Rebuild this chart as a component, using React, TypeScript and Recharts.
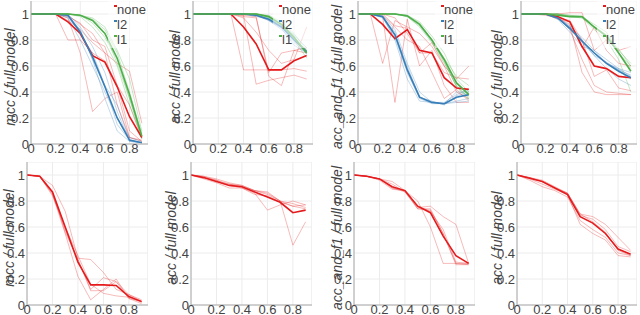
import React from "react";
import {
  LineChart,
  Line,
  XAxis,
  YAxis,
  CartesianGrid,
  ReferenceLine,
} from "recharts";

// fraction of pruned heads (x axis)
const PRUNE = [0, 0.1, 0.2, 0.3, 0.4, 0.5, 0.6, 0.7, 0.8, 0.9];
const X_TICKS = [0, 0.2, 0.4, 0.6, 0.8];
const Y_TICKS = [0, 0.2, 0.4, 0.6, 0.8, 1];
const X_MAX = 0.95;
const Y_MAX = 1.1;

const COLORS: Record<string, string> = {
  none: "#e41a1c",
  l2: "#377eb8",
  l1: "#4daf4a",
};
const LEGEND_KEYS = ["none", "l2", "l1"];

// ---- top row, panel 1: mcc ----
const MCC_NONE_RUNS = [
  [1, 1, 1, 0.8, 0.8, 0.7, 0.64, 0.45, 0.1, 0.02],
  [1, 1, 1, 0.97, 0.7, 0.25, 0.35, 0.4, 0.05, 0.03],
  [1, 1, 1, 0.99, 0.92, 0.85, 0.7, 0.62, 0.56, 0.16],
  [1, 1, 1, 0.95, 0.88, 0.78, 0.7, 0.3, 0.05, 0.02],
  [1, 1, 1, 0.98, 0.93, 0.8, 0.75, 0.45, 0.3, 0.04],
];
const MCC_NONE_MEAN = [1, 1, 1, 0.94, 0.85, 0.68, 0.63, 0.44, 0.21, 0.05];
const MCC_L2_RUNS = [
  [1, 1, 1, 1, 0.9, 0.75, 0.55, 0.25, 0.02, 0.01],
  [1, 1, 1, 0.98, 0.85, 0.7, 0.45, 0.15, 0.03, 0.01],
  [1, 1, 1, 0.99, 0.88, 0.65, 0.35, 0.1, 0.02, 0.01],
  [1, 1, 1, 0.97, 0.8, 0.6, 0.4, 0.2, 0.05, 0.02],
  [1, 1, 1, 0.99, 0.87, 0.65, 0.45, 0.3, 0.03, 0.01],
];
const MCC_L2_MEAN = [1, 1, 1, 0.99, 0.86, 0.67, 0.44, 0.2, 0.03, 0.01];
const MCC_L1_RUNS = [
  [1, 1, 1, 1, 0.99, 0.96, 0.88, 0.7, 0.4, 0.08],
  [1, 1, 1, 1, 0.99, 0.93, 0.82, 0.65, 0.35, 0.05],
  [1, 1, 1, 1, 0.98, 0.9, 0.78, 0.6, 0.3, 0.06],
  [1, 1, 1, 1, 0.99, 0.97, 0.9, 0.72, 0.5, 0.1],
  [1, 1, 1, 1, 0.99, 0.95, 0.85, 0.62, 0.35, 0.04],
];
const MCC_L1_MEAN = [1, 1, 1, 1, 0.99, 0.95, 0.85, 0.66, 0.38, 0.06];

// ---- top row, panel 2: acc ----
const ACC_NONE_RUNS = [
  [1, 1, 1, 1, 0.57, 0.57, 0.57, 0.57, 0.58, 0.56],
  [1, 1, 1, 1, 0.99, 0.46, 0.49, 0.51, 0.53, 0.5],
  [1, 1, 1, 1, 0.99, 0.98, 0.52, 0.45, 0.72, 0.7],
  [1, 1, 1, 1, 0.98, 0.97, 0.55, 0.7, 0.72, 0.74],
  [1, 1, 1, 1, 0.97, 0.86, 0.72, 0.62, 0.65, 0.9],
];
const ACC_NONE_MEAN = [1, 1, 1, 1, 0.9, 0.77, 0.57, 0.57, 0.64, 0.68];
const ACC_L2_RUNS = [
  [1, 1, 1, 1, 1, 0.99, 0.97, 0.92, 0.84, 0.74],
  [1, 1, 1, 1, 1, 0.99, 0.95, 0.88, 0.78, 0.7],
  [1, 1, 1, 1, 1, 0.98, 0.96, 0.9, 0.8, 0.72],
  [1, 1, 1, 1, 1, 0.99, 0.96, 0.91, 0.82, 0.69],
  [1, 1, 1, 1, 1, 0.99, 0.95, 0.89, 0.76, 0.7],
];
const ACC_L2_MEAN = [1, 1, 1, 1, 1, 0.99, 0.96, 0.9, 0.8, 0.71];
const ACC_L1_RUNS = [
  [1, 1, 1, 1, 1, 1, 0.99, 0.94, 0.85, 0.72],
  [1, 1, 1, 1, 1, 1, 0.98, 0.9, 0.8, 0.66],
  [1, 1, 1, 1, 1, 1, 0.98, 0.93, 0.83, 0.7],
  [1, 1, 1, 1, 1, 1, 0.97, 0.91, 0.81, 0.71],
  [1, 1, 1, 1, 1, 1, 0.98, 0.92, 0.81, 0.71],
];
const ACC_L1_MEAN = [1, 1, 1, 1, 1, 1, 0.98, 0.92, 0.82, 0.7];

// ---- top row, panel 3: acc_and_f1 ----
const F1_NONE_RUNS = [
  [1, 1, 0.62, 0.95, 0.9, 0.85, 0.75, 0.6, 0.5, 0.6],
  [1, 1, 0.98, 0.32, 0.96, 0.6, 0.72, 0.45, 0.32, 0.32],
  [1, 1, 0.99, 0.9, 0.8, 0.75, 0.55, 0.35, 0.42, 0.33],
  [1, 1, 1, 0.97, 0.85, 0.7, 0.78, 0.6, 0.4, 0.35],
  [1, 1, 1, 0.91, 0.89, 0.7, 0.7, 0.55, 0.51, 0.5],
];
const F1_NONE_MEAN = [1, 1, 0.92, 0.81, 0.88, 0.72, 0.7, 0.51, 0.43, 0.42];
const F1_L2_RUNS = [
  [1, 1, 0.99, 0.88, 0.62, 0.4, 0.32, 0.31, 0.33, 0.35],
  [1, 1, 0.97, 0.82, 0.55, 0.35, 0.31, 0.31, 0.4, 0.4],
  [1, 1, 0.98, 0.8, 0.5, 0.33, 0.32, 0.31, 0.32, 0.33],
  [1, 1, 0.98, 0.86, 0.58, 0.36, 0.32, 0.32, 0.38, 0.42],
  [1, 1, 0.98, 0.84, 0.6, 0.36, 0.33, 0.3, 0.37, 0.4],
];
const F1_L2_MEAN = [1, 1, 0.98, 0.84, 0.57, 0.36, 0.32, 0.31, 0.36, 0.38];
const F1_L1_RUNS = [
  [1, 1, 1, 1, 0.99, 0.94, 0.83, 0.7, 0.5, 0.4],
  [1, 1, 1, 1, 0.98, 0.9, 0.78, 0.62, 0.45, 0.35],
  [1, 1, 1, 1, 0.99, 0.93, 0.8, 0.66, 0.52, 0.45],
  [1, 1, 1, 1, 0.98, 0.91, 0.79, 0.64, 0.44, 0.36],
  [1, 1, 1, 1, 0.99, 0.92, 0.8, 0.63, 0.44, 0.34],
];
const F1_L1_MEAN = [1, 1, 1, 1, 0.985, 0.92, 0.8, 0.65, 0.47, 0.38];

// ---- top row, panel 4: acc ----
const ACC2_NONE_RUNS = [
  [1, 1, 1, 1, 1.01, 1.01, 0.72, 0.8, 0.72, 0.75],
  [1, 1, 1, 0.97, 0.92, 0.55, 0.4, 0.38, 0.38, 0.38],
  [1, 1, 1, 0.98, 0.88, 0.65, 0.45, 0.4, 0.39, 0.38],
  [1, 1, 0.99, 0.97, 0.95, 0.8, 0.52, 0.57, 0.43, 0.41],
  [1, 1, 1, 0.96, 0.94, 0.74, 0.9, 0.72, 0.62, 0.6],
];
const ACC2_NONE_MEAN = [1, 1, 1, 0.98, 0.94, 0.75, 0.6, 0.58, 0.52, 0.51];
const ACC2_L2_RUNS = [
  [1, 1, 1, 0.98, 0.9, 0.82, 0.72, 0.65, 0.58, 0.52],
  [1, 1, 1, 0.97, 0.88, 0.78, 0.68, 0.58, 0.5, 0.45],
  [1, 1, 1, 0.96, 0.86, 0.75, 0.72, 0.62, 0.58, 0.55],
  [1, 1, 1, 0.97, 0.9, 0.8, 0.7, 0.62, 0.57, 0.5],
  [1, 1, 1, 0.97, 0.91, 0.8, 0.68, 0.63, 0.57, 0.53],
];
const ACC2_L2_MEAN = [1, 1, 1, 0.97, 0.89, 0.79, 0.7, 0.62, 0.56, 0.51];
const ACC2_L1_RUNS = [
  [1, 1, 1, 1, 0.99, 0.98, 0.92, 0.86, 0.7, 0.6],
  [1, 1, 1, 1, 0.98, 0.97, 0.88, 0.8, 0.65, 0.4],
  [1, 1, 1, 1, 0.98, 0.98, 0.9, 0.84, 0.72, 0.62],
  [1, 1, 1, 1, 0.98, 0.97, 0.9, 0.82, 0.7, 0.58],
  [1, 1, 1, 1, 0.99, 0.98, 0.9, 0.83, 0.73, 0.6],
];
const ACC2_L1_MEAN = [1, 1, 1, 0.99, 0.98, 0.98, 0.9, 0.83, 0.7, 0.56];

// ---- bottom row (none only) ----
const B_MCC_RUNS = [
  [1, 0.99, 0.92, 0.72, 0.36, 0.35, 0.25, 0.12, 0.08, 0.04],
  [1, 0.99, 0.85, 0.55, 0.22, 0.04, 0.12, 0.2, 0.05, 0.01],
  [1, 0.99, 0.86, 0.58, 0.35, 0.12, 0.21, 0.18, 0.08, 0.03],
  [1, 0.99, 0.84, 0.6, 0.38, 0.16, 0.09, 0.07, 0.06, 0.02],
  [1, 0.99, 0.87, 0.56, 0.35, 0.11, 0.11, 0.18, 0.05, 0.03],
];
const B_MCC_MEAN = [1, 0.99, 0.87, 0.6, 0.33, 0.155, 0.155, 0.15, 0.065, 0.026];
const B_ACC_RUNS = [
  [1, 0.99, 0.97, 0.94, 0.92, 0.88, 0.86, 0.8, 0.46, 0.64],
  [1, 0.98, 0.96, 0.92, 0.9, 0.86, 0.73, 0.77, 0.8, 0.77],
  [1, 0.98, 0.95, 0.93, 0.92, 0.88, 0.85, 0.8, 0.78, 0.75],
  [1, 0.97, 0.94, 0.9, 0.9, 0.85, 0.84, 0.79, 0.76, 0.74],
  [1, 0.99, 0.96, 0.93, 0.91, 0.88, 0.87, 0.8, 0.76, 0.77],
];
const B_ACC_MEAN = [1, 0.98, 0.95, 0.92, 0.91, 0.87, 0.83, 0.79, 0.71, 0.73];
const B_F1_RUNS = [
  [1, 0.99, 0.97, 0.95, 0.88, 0.8, 0.6, 0.32, 0.32, 0.32],
  [1, 0.99, 0.97, 0.93, 0.87, 0.75, 0.76, 0.68, 0.62, 0.32],
  [1, 0.99, 0.97, 0.9, 0.88, 0.74, 0.74, 0.55, 0.32, 0.31],
  [1, 0.99, 0.96, 0.89, 0.88, 0.76, 0.72, 0.58, 0.33, 0.32],
  [1, 0.99, 0.97, 0.9, 0.87, 0.74, 0.73, 0.55, 0.31, 0.31],
];
const B_F1_MEAN = [1, 0.99, 0.97, 0.91, 0.88, 0.76, 0.71, 0.53, 0.38, 0.32];
const B_ACC2_RUNS = [
  [1, 0.98, 0.96, 0.91, 0.86, 0.7, 0.68, 0.62, 0.52, 0.42],
  [1, 0.97, 0.93, 0.89, 0.85, 0.62, 0.55, 0.5, 0.38, 0.37],
  [1, 0.98, 0.95, 0.9, 0.86, 0.69, 0.66, 0.58, 0.45, 0.41],
  [1, 0.96, 0.91, 0.88, 0.83, 0.65, 0.58, 0.52, 0.4, 0.38],
  [1, 0.98, 0.95, 0.9, 0.86, 0.7, 0.64, 0.56, 0.42, 0.38],
];
const B_ACC2_MEAN = [1, 0.975, 0.95, 0.9, 0.85, 0.68, 0.63, 0.55, 0.43, 0.39];

const FONT = '"Liberation Sans", Arial, Helvetica, sans-serif';
const TICK_FONT = '"Liberation Sans Narrow", "Arial Narrow", "Liberation Sans", sans-serif';
const TEXT = "#444";

type Group = { key: string; runs: number[][]; mean: number[] };

function buildRows(groups: Group[]) {
  return PRUNE.map((x, i) => {
    const row: Record<string, number> = { x };
    groups.forEach((g) => {
      g.runs.forEach((r, j) => {
        row[`${g.key}${j}`] = r[i];
      });
      row[`${g.key}M`] = g.mean[i];
    });
    return row;
  });
}

const YW = 30;
const XH = 18;

interface PanelProps {
  left: number;
  top: number;
  width: number;
  height: number;
  ylabel: string;
  labelX: number;
  groups: Group[];
  legend?: boolean;
}

function Panel({ left, top, width, height, ylabel, labelX, groups, legend }: PanelProps) {
  const rows = buildRows(groups);
  const tick = { fill: TEXT, fontSize: 13, fontFamily: TICK_FONT };
  return (
    <>
      <div
        style={{
          position: "absolute",
          left: labelX,
          top: top + height / 2 + 4,
          transform: "translate(-50%, -50%) rotate(-90deg)",
          whiteSpace: "nowrap",
          fontFamily: FONT,
          fontStyle: "italic",
          fontSize: 14,
          lineHeight: "14px",
          color: TEXT,
        }}
      >
        {ylabel}
      </div>
      <div style={{ position: "absolute", left: left - YW, top }}>
        <LineChart
          width={width + YW}
          height={height + XH}
          data={rows}
          margin={{ top: 0, right: 0, bottom: 0, left: 0 }}
        >
          <CartesianGrid stroke="#ececec" />
          <ReferenceLine x={X_MAX} stroke="#ececec" />
          <XAxis
            dataKey="x"
            type="number"
            domain={[0, X_MAX]}
            ticks={X_TICKS}
            allowDataOverflow
            height={XH}
            tickLine={false}
            tickSize={0}
            tickMargin={0}
            stroke="#aaa"
            tick={tick}
          />
          <YAxis
            type="number"
            domain={[0, Y_MAX]}
            ticks={Y_TICKS}
            allowDataOverflow
            width={YW}
            tickLine={false}
            tickSize={0}
            tickMargin={2}
            stroke="#aaa"
            tick={tick}
          />
          {groups.map((g) =>
            g.runs.map((_, j) => (
              <Line
                key={`${g.key}${j}`}
                dataKey={`${g.key}${j}`}
                stroke={COLORS[g.key]}
                strokeOpacity={0.3}
                strokeWidth={1}
                dot={false}
                activeDot={false}
                isAnimationActive={false}
              />
            ))
          )}
          {groups.map((g) => (
            <Line
              key={`${g.key}M`}
              dataKey={`${g.key}M`}
              stroke={COLORS[g.key]}
              strokeWidth={1.6}
              dot={false}
              activeDot={false}
              isAnimationActive={false}
            />
          ))}
        </LineChart>
      </div>
      {legend && (
        <div
          style={{
            position: "absolute",
            left: left + width - 40,
            top: top - 1,
            width: 40,
            height: 48,
            background: "rgba(255,255,255,0.55)",
            fontFamily: FONT,
            fontSize: 13,
            color: TEXT,
          }}
        >
          {LEGEND_KEYS.map((k, i) => (
            <div
              key={k}
              style={{ position: "absolute", left: 9, top: 2 + i * 15, lineHeight: "15px" }}
            >
              <span
                style={{
                  position: "absolute",
                  left: -3,
                  top: 3,
                  width: 3,
                  height: 2,
                  background: COLORS[k],
                }}
              />
              {k}
            </div>
          ))}
        </div>
      )}
    </>
  );
}

export default function App() {
  return (
    <div
      style={{
        position: "absolute",
        left: 0,
        top: 0,
        width: 640,
        height: 315,
        overflow: "hidden",
        background: "#fff",
      }}
    >
      <Panel
        left={31} top={1} width={117} height={143} labelX={10}
        ylabel="mcc / full model" legend
        groups={[
          { key: "none", runs: MCC_NONE_RUNS, mean: MCC_NONE_MEAN },
          { key: "l2", runs: MCC_L2_RUNS, mean: MCC_L2_MEAN },
          { key: "l1", runs: MCC_L1_RUNS, mean: MCC_L1_MEAN },
        ]}
      />
      <Panel
        left={193} top={1} width={120} height={143} labelX={175}
        ylabel="acc / full model" legend
        groups={[
          { key: "none", runs: ACC_NONE_RUNS, mean: ACC_NONE_MEAN },
          { key: "l2", runs: ACC_L2_RUNS, mean: ACC_L2_MEAN },
          { key: "l1", runs: ACC_L1_RUNS, mean: ACC_L1_MEAN },
        ]}
      />
      <Panel
        left={358} top={1} width={117} height={143} labelX={337}
        ylabel="acc_and_f1 / full model" legend
        groups={[
          { key: "none", runs: F1_NONE_RUNS, mean: F1_NONE_MEAN },
          { key: "l2", runs: F1_L2_RUNS, mean: F1_L2_MEAN },
          { key: "l1", runs: F1_L1_RUNS, mean: F1_L1_MEAN },
        ]}
      />
      <Panel
        left={521} top={1} width={116} height={143} labelX={497}
        ylabel="acc / full model" legend
        groups={[
          { key: "none", runs: ACC2_NONE_RUNS, mean: ACC2_NONE_MEAN },
          { key: "l2", runs: ACC2_L2_RUNS, mean: ACC2_L2_MEAN },
          { key: "l1", runs: ACC2_L1_RUNS, mean: ACC2_L1_MEAN },
        ]}
      />
      <Panel
        left={27} top={162} width={121} height={143} labelX={9}
        ylabel="mcc / full model"
        groups={[{ key: "none", runs: B_MCC_RUNS, mean: B_MCC_MEAN }]}
      />
      <Panel
        left={191} top={162} width={121} height={143} labelX={171}
        ylabel="acc / full model"
        groups={[{ key: "none", runs: B_ACC_RUNS, mean: B_ACC_MEAN }]}
      />
      <Panel
        left={354} top={162} width={121} height={143} labelX={337}
        ylabel="acc_and_f1 / full model"
        groups={[{ key: "none", runs: B_F1_RUNS, mean: B_F1_MEAN }]}
      />
      <Panel
        left={517} top={162} width={120} height={143} labelX={497}
        ylabel="acc / full model"
        groups={[{ key: "none", runs: B_ACC2_RUNS, mean: B_ACC2_MEAN }]}
      />
    </div>
  );
}
